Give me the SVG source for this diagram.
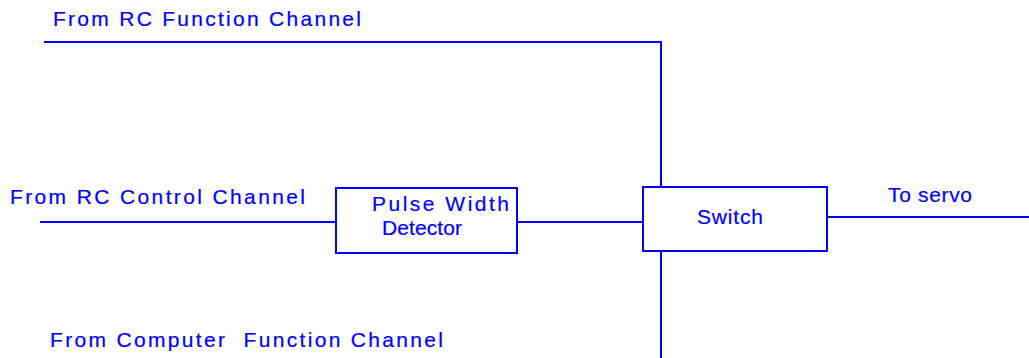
<svg xmlns="http://www.w3.org/2000/svg" width="1029" height="358" viewBox="0 0 1029 358">
<style>
.t{font-family:"Liberation Sans",Arial,sans-serif;fill:#0000ff;font-size:21px;stroke:#0000ff;stroke-width:0.2}
.b{fill:#fff;stroke:#0000ff;stroke-width:2}
.w{fill:none;stroke:#0000ff;stroke-width:2}
</style>
<rect width="1029" height="358" fill="#fff"/>
<g id="connectors">
<polyline class="w" points="44,42 661,42 661,187"/>
<line class="w" x1="40" y1="222" x2="336" y2="222"/>
<line class="w" x1="518" y1="222" x2="643" y2="222"/>
<line class="w" x1="827" y1="217" x2="1029" y2="217"/>
<line class="w" x1="661" y1="251" x2="661" y2="358"/>
</g>
<g id="label-rc-function"><text class="t" x="53" y="26" textLength="308" lengthAdjust="spacing">From RC Function Channel</text></g>
<g id="label-rc-control"><text class="t" x="10" y="204" textLength="295" lengthAdjust="spacing">From RC Control Channel</text></g>
<g id="label-computer"><text class="t" x="50" y="347" textLength="393" lengthAdjust="spacing" xml:space="preserve">From Computer  Function Channel</text></g>
<g id="pulse-width-detector">
<rect class="b" x="336" y="188" width="181" height="65"/>
<text class="t" x="372" y="211" textLength="137" lengthAdjust="spacing">Pulse Width</text>
<text class="t" x="382" y="235" textLength="80" lengthAdjust="spacing">Detector</text>
</g>
<g id="switch">
<rect class="b" x="643" y="187" width="184" height="64"/>
<text class="t" x="697" y="224" textLength="66" lengthAdjust="spacing">Switch</text>
</g>
<g id="label-servo"><text class="t" x="888" y="202" textLength="84" lengthAdjust="spacing">To servo</text></g>
</svg>
